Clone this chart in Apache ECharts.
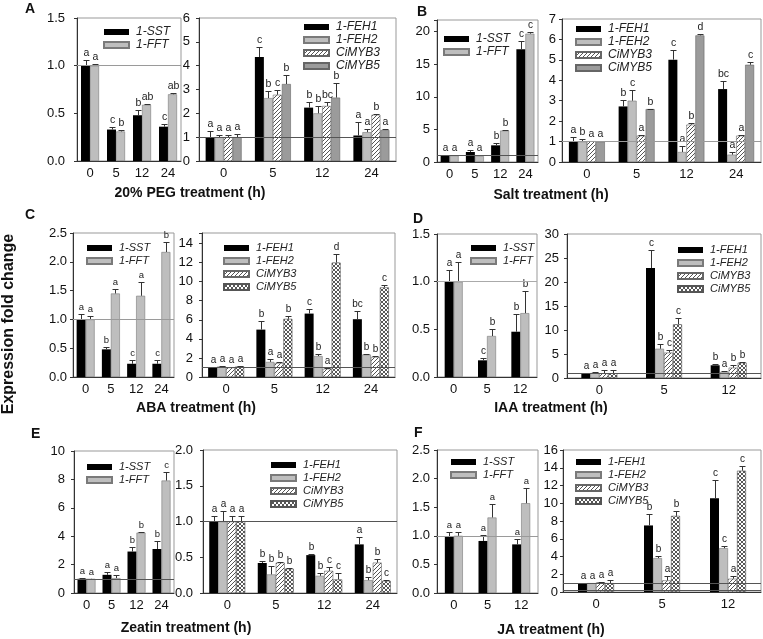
<!DOCTYPE html>
<html><head><meta charset="utf-8">
<script src="https://cdn.jsdelivr.net/npm/echarts@6/dist/echarts.min.js"></script>
<style>html,body{margin:0;padding:0;background:#fff}#c{width:763px;height:639px}</style>
</head><body><div id="c"></div><script>
// ---------- categories ----------
const H4 = ['0', '5', '12', '24'];
const H3 = ['0', '5', '12'];

// ---------- A: 20% PEG ----------
const A_SST = [1.0, 0.33, 0.48, 0.36], A_SST_err = [0.06, 0.03, 0.05, 0.025], A_SST_sig = ['a', 'c', 'b', 'c'];
const A_FFT = [1.0, 0.31, 0.59, 0.70], A_FFT_err = [0.02, 0.01, 0.01, 0.015], A_FFT_sig = ['a', 'b', 'ab', 'ab'];
const A_FEH1 = [1.0, 4.36, 2.24, 1.07], A_FEH1_err = [0.24, 0.42, 0.23, 0.58], A_FEH1_sig = ['a', 'c', 'b', 'a'];
const A_FEH2 = [1.0, 2.64, 2.0, 1.21], A_FEH2_err = [0.09, 0.28, 0.29, 0.12], A_FEH2_sig = ['a', 'b', 'b', 'a'];
const A_MYB3 = [1.0, 2.78, 2.31, 1.94], A_MYB3_err = [0.09, 0.21, 0.16, 0.02], A_MYB3_sig = ['a', 'c', 'bc', 'b'];
const A_MYB5 = [1.0, 3.23, 2.66, 1.30], A_MYB5_err = [0.14, 0.39, 0.61, 0.03], A_MYB5_sig = ['a', 'b', 'b', 'a'];

// ---------- B: Salt ----------
const B_SST = [1.0, 1.54, 2.56, 17.3], B_SST_err = [0.1, 0.36, 0.41, 1.2], B_SST_sig = ['a', 'a', 'b', 'c'];
const B_FFT = [1.0, 0.92, 4.82, 19.7], B_FFT_err = [0.08, 0.21, 0.15, 0.3], B_FFT_sig = ['a', 'a', 'b', 'c'];
const B_FEH1 = [1.0, 2.72, 5.01, 3.57], B_FEH1_err = [0.22, 0.33, 0.49, 0.41], B_FEH1_sig = ['a', 'b', 'c', 'bc'];
const B_FEH2 = [1.0, 3.0, 0.49, 0.36], B_FEH2_err = [0.14, 0.54, 0.28, 0.11], B_FEH2_sig = ['b', 'c', 'a', 'a'];
const B_MYB3 = [1.02, 1.29, 1.83, 1.29], B_MYB3_err = [0.03, 0.01, 0.07, 0.01], B_MYB3_sig = ['a', 'a', 'b', 'a'];
const B_MYB5 = [1.0, 2.59, 6.2, 4.76], B_MYB5_err = [0.02, 0.01, 0.08, 0.13], B_MYB5_sig = ['a', 'b', 'd', 'c'];

// ---------- C: ABA ----------
const C_SST = [1.0, 0.48, 0.23, 0.23], C_SST_err = [0.09, 0.04, 0.06, 0.06], C_SST_sig = ['a', 'b', 'c', 'c'];
const C_FFT = [1.0, 1.45, 1.41, 2.17], C_FFT_err = [0.06, 0.08, 0.24, 0.18], C_FFT_sig = ['a', 'a', 'a', 'b'];
const C_FEH1 = [1.0, 4.97, 6.65, 6.06], C_FEH1_err = [0.1, 0.88, 0.45, 0.84], C_FEH1_sig = ['a', 'b', 'c', 'bc'];
const C_FEH2 = [1.1, 1.58, 2.2, 2.35], C_FEH2_err = [0.1, 0.32, 0.18, 0.05], C_FEH2_sig = ['a', 'a', 'b', 'b'];
const C_MYB3 = [1.0, 1.47, 0.87, 2.1], C_MYB3_err = [0.05, 0.1, 0.08, 0.1], C_MYB3_sig = ['a', 'a', 'a', 'b'];
const C_MYB5 = [1.1, 6.1, 12.0, 9.4], C_MYB5_err = [0.05, 0.3, 0.85, 0.2], C_MYB5_sig = ['a', 'b', 'd', 'c'];

// ---------- D: IAA ----------
const D_SST = [1.0, 0.175, 0.475], D_SST_err = [0.12, 0.025, 0.185], D_SST_sig = ['a', 'c', 'b'];
const D_FFT = [1.0, 0.43, 0.67], D_FFT_err = [0.21, 0.07, 0.23], D_FFT_sig = ['a', 'b', 'b'];
const D_FEH1 = [1.0, 22.9, 2.65], D_FEH1_err = [0.1, 3.7, 0.35], D_FEH1_sig = ['a', 'c', 'b'];
const D_FEH2 = [1.05, 6.1, 1.26], D_FEH2_err = [0.1, 0.9, 0.14], D_FEH2_sig = ['a', 'b', 'a'];
const D_MYB3 = [1.0, 5.3, 2.16], D_MYB3_err = [0.6, 0.5, 0.49], D_MYB3_sig = ['a', 'c', 'b'];
const D_MYB5 = [1.0, 11.2, 3.2], D_MYB5_err = [0.6, 1.2, 0.15], D_MYB5_sig = ['a', 'c', 'b'];

// ---------- E: Zeatin ----------
const E_SST = [1.0, 1.28, 2.92, 3.1], E_SST_err = [0.05, 0.17, 0.35, 0.57], E_SST_sig = ['a', 'a', 'b', 'b'];
const E_FFT = [1.0, 1.05, 4.25, 7.92], E_FFT_err = [0.02, 0.19, 0.05, 0.58], E_FFT_sig = ['a', 'a', 'b', 'c'];
const E_FEH1 = [1.0, 0.42, 0.53, 0.68], E_FEH1_err = [0.08, 0.03, 0.02, 0.11], E_FEH1_sig = ['a', 'b', 'b', 'a'];
const E_FEH2 = [1.0, 0.26, 0.24, 0.18], E_FEH2_err = [0.14, 0.12, 0.045, 0.04], E_FEH2_sig = ['a', 'b', 'b', 'b'];
const E_MYB3 = [1.0, 0.425, 0.31, 0.425], E_MYB3_err = [0.08, 0.01, 0.05, 0.045], E_MYB3_sig = ['a', 'b', 'c', 'b'];
const E_MYB5 = [1.0, 0.34, 0.19, 0.17], E_MYB5_err = [0.08, 0.01, 0.095, 0.01], E_MYB5_sig = ['a', 'b', 'c', 'c'];

// ---------- F: JA ----------
const F_SST = [0.99, 0.91, 0.85], F_SST_err = [0.07, 0.11, 0.1], F_SST_sig = ['a', 'a', 'a'];
const F_FFT = [1.0, 1.32, 1.57], F_FFT_err = [0.06, 0.23, 0.26], F_FFT_sig = ['a', 'a', 'a'];
const F_FEH1 = [1.0, 7.5, 10.56], F_FEH1_err = [0.05, 1.26, 2.04], F_FEH1_sig = ['a', 'b', 'c'];
const F_FEH2 = [1.0, 3.82, 4.94], F_FEH2_err = [0.05, 0.26, 0.19], F_FEH2_sig = ['a', 'b', 'c'];
const F_MYB3 = [1.09, 1.31, 1.5], F_MYB3_err = [0.06, 0.45, 0.26], F_MYB3_sig = ['a', 'a', 'a'];
const F_MYB5 = [1.0, 8.58, 13.67], F_MYB5_err = [0.3, 0.6, 0.56], F_MYB5_sig = ['a', 'b', 'c'];

// ---------- text ----------
const xTitles = ['20% PEG treatment (h)', 'Salt treatment (h)', 'ABA treatment (h)', 'IAA treatment (h)', 'Zeatin treatment (h)', 'JA treatment (h)'];
const panelLetters = ['A', 'B', 'C', 'D', 'E', 'F'];
const yTitle = 'Expression fold change';

// ---------- styling ----------
const FONT = "'Liberation Sans', Arial, Helvetica, sans-serif";
function makeHatch() {
  const c = document.createElement('canvas'); c.width = 4; c.height = 4;
  const g = c.getContext('2d');
  g.fillStyle = '#fff'; g.fillRect(0, 0, 4, 4);
  g.strokeStyle = '#555'; g.lineWidth = 1;
  g.beginPath();
  g.moveTo(-1, 5); g.lineTo(5, -1);
  g.moveTo(-1, 1); g.lineTo(1, -1);
  g.moveTo(3, 5); g.lineTo(5, 3);
  g.stroke();
  return c;
}
function makeCross() {
  const c = document.createElement('canvas'); c.width = 4; c.height = 4;
  const g = c.getContext('2d');
  g.fillStyle = '#fff'; g.fillRect(0, 0, 4, 4);
  g.strokeStyle = '#444'; g.lineWidth = 0.9;
  g.beginPath();
  g.moveTo(0, 0); g.lineTo(4, 4);
  g.moveTo(0, 4); g.lineTo(4, 0);
  g.stroke();
  return c;
}
const hatchC = makeHatch(), crossC = makeCross();
const STY = {
  black: { color: '#000' },
  lgray: { color: '#bebebe', borderColor: '#7a7a7a', borderWidth: 0.6 },
  mgray: { color: '#9b9b9b', borderColor: '#666', borderWidth: 0.6 },
  hatch: { color: { image: hatchC, repeat: 'repeat' }, borderColor: '#666', borderWidth: 0.6 },
  cross: { color: { image: crossC, repeat: 'repeat' }, borderColor: '#555', borderWidth: 0.6 }
};

function S(name, v, e, sig, st) { return { name, v, e, sig, st }; }

const panels = [
  { id: 'A1', cats: H4, box: [77, 18, 181, 161], max: 1.5, step: 0.5, dec: 1, lm: 12, refs: [1], lc: '#9a9a9a', fs: 10.5, leg: [103, 25.5], lfs: 12,
    series: [S('1-SST', A_SST, A_SST_err, A_SST_sig, 'black'), S('1-FFT', A_FFT, A_FFT_err, A_FFT_sig, 'lgray')] },
  { id: 'A2', cats: H4, box: [199, 18, 396, 161], max: 6, step: 1, dec: 0, lm: 9, refs: [1], lc: '#555', fs: 10.5, leg: [303, 20.5], lfs: 12,
    series: [S('1-FEH1', A_FEH1, A_FEH1_err, A_FEH1_sig, 'black'), S('1-FEH2', A_FEH2, A_FEH2_err, A_FEH2_sig, 'lgray'),
             S('CiMYB3', A_MYB3, A_MYB3_err, A_MYB3_sig, 'hatch'), S('CiMYB5', A_MYB5, A_MYB5_err, A_MYB5_sig, 'mgray')] },
  { id: 'B1', cats: H4, box: [437, 20, 538, 162], max: 21.8, step: 5, dec: 0, lm: 7, refs: [1], lc: '#555', fs: 10, leg: [443, 32.5], lfs: 12,
    series: [S('1-SST', B_SST, B_SST_err, B_SST_sig, 'black'), S('1-FFT', B_FFT, B_FFT_err, B_FFT_sig, 'lgray')] },
  { id: 'B2', cats: H4, box: [562, 19, 761, 162], max: 7, step: 1, dec: 0, lm: 6, refs: [1], lc: '#9a9a9a', fs: 10.5, leg: [575, 22.5], lfs: 12,
    series: [S('1-FEH1', B_FEH1, B_FEH1_err, B_FEH1_sig, 'black'), S('1-FEH2', B_FEH2, B_FEH2_err, B_FEH2_sig, 'lgray'),
             S('CiMYB3', B_MYB3, B_MYB3_err, B_MYB3_sig, 'hatch'), S('CiMYB5', B_MYB5, B_MYB5_err, B_MYB5_sig, 'mgray')] },
  { id: 'C1', cats: H4, box: [73, 233, 174, 377], max: 2.5, step: 0.5, dec: 1, lm: 6, refs: [1], lc: '#9a9a9a', fs: 9.5, leg: [86, 241.5], lfs: 11,
    series: [S('1-SST', C_SST, C_SST_err, C_SST_sig, 'black'), S('1-FFT', C_FFT, C_FFT_err, C_FFT_sig, 'lgray')] },
  { id: 'C2', cats: H4, box: [202, 233, 395, 377], max: 15.1, step: 2, dec: 0, lm: 9, refs: [1], lc: '#555', fs: 10, leg: [223, 241.5], lfs: 11,
    series: [S('1-FEH1', C_FEH1, C_FEH1_err, C_FEH1_sig, 'black'), S('1-FEH2', C_FEH2, C_FEH2_err, C_FEH2_sig, 'lgray'),
             S('CiMYB3', C_MYB3, C_MYB3_err, C_MYB3_sig, 'hatch'), S('CiMYB5', C_MYB5, C_MYB5_err, C_MYB5_sig, 'cross')] },
  { id: 'D1', cats: H3, box: [437, 234, 537, 377], max: 1.5, step: 0.5, dec: 1, lm: 7, refs: [1], lc: '#aaa', fs: 10, leg: [470, 241.5], lfs: 11,
    series: [S('1-SST', D_SST, D_SST_err, D_SST_sig, 'black'), S('1-FFT', D_FFT, D_FFT_err, D_FFT_sig, 'lgray')] },
  { id: 'D2', cats: H3, box: [567, 234, 761, 378], max: 30, step: 5, dec: 0, lm: 8, refs: [1], lc: '#555', fs: 10, leg: [677, 243.5], lfs: 11,
    series: [S('1-FEH1', D_FEH1, D_FEH1_err, D_FEH1_sig, 'black'), S('1-FEH2', D_FEH2, D_FEH2_err, D_FEH2_sig, 'lgray'),
             S('CiMYB3', D_MYB3, D_MYB3_err, D_MYB3_sig, 'hatch'), S('CiMYB5', D_MYB5, D_MYB5_err, D_MYB5_sig, 'cross')] },
  { id: 'E1', cats: H4, box: [74, 451, 174, 593], max: 10, step: 2, dec: 0, lm: 9, refs: [1], lc: '#555', fs: 9.5, leg: [86, 460.5], lfs: 11,
    series: [S('1-SST', E_SST, E_SST_err, E_SST_sig, 'black'), S('1-FFT', E_FFT, E_FFT_err, E_FFT_sig, 'lgray')] },
  { id: 'E2', cats: H4, box: [203, 450, 397, 593], max: 2, step: 0.5, dec: 1, lm: 10, refs: [1], lc: '#555', fs: 10, leg: [270, 458.5], lfs: 11,
    series: [S('1-FEH1', E_FEH1, E_FEH1_err, E_FEH1_sig, 'black'), S('1-FEH2', E_FEH2, E_FEH2_err, E_FEH2_sig, 'lgray'),
             S('CiMYB3', E_MYB3, E_MYB3_err, E_MYB3_sig, 'hatch'), S('CiMYB5', E_MYB5, E_MYB5_err, E_MYB5_sig, 'cross')] },
  { id: 'F1', cats: H3, box: [437, 450, 538, 593], max: 2.5, step: 0.5, dec: 1, lm: 7, refs: [1], lc: '#9a9a9a', fs: 9.5, leg: [450, 455.5], lfs: 11,
    series: [S('1-SST', F_SST, F_SST_err, F_SST_sig, 'black'), S('1-FFT', F_FFT, F_FFT_err, F_FFT_sig, 'lgray')] },
  { id: 'F2', cats: H3, box: [563, 450, 761, 592], max: 16, step: 2, dec: 0, lm: 5, refs: [1, 0.25], lc: '#555', fs: 10, leg: [575, 455.5], lfs: 11,
    series: [S('1-FEH1', F_FEH1, F_FEH1_err, F_FEH1_sig, 'black'), S('1-FEH2', F_FEH2, F_FEH2_err, F_FEH2_sig, 'lgray'),
             S('CiMYB3', F_MYB3, F_MYB3_err, F_MYB3_sig, 'hatch'), S('CiMYB5', F_MYB5, F_MYB5_err, F_MYB5_sig, 'cross')] }
];

const BW = 9;
function errRender(off, sig, fs) {
  return function (params, api) {
    const c = api.value(0), v = api.value(1), e = api.value(2);
    const p0 = api.coord([c, v]), p1 = api.coord([c, v + e]);
    const x = Math.round(p0[0] + off) + 0.5;
    const yt = Math.round(p1[1]) + 0.5;
    return { type: 'group', children: [
      { type: 'line', shape: { x1: x, y1: p0[1], x2: x, y2: yt }, style: { stroke: '#333', lineWidth: 1 } },
      { type: 'line', shape: { x1: x - 3, y1: yt, x2: x + 3, y2: yt }, style: { stroke: '#333', lineWidth: 1 } },
      { type: 'text', x: x, y: yt - 2, style: { text: sig[params.dataIndex], textAlign: 'center', textVerticalAlign: 'bottom', fontSize: fs, fontFamily: FONT, fill: '#222' } }
    ] };
  };
}

const grid = [], xAxis = [], yAxis = [], series = [], legend = [];
panels.forEach((p, gi) => {
  const [x0, y0, x1, y1] = p.box;
  grid.push({ left: x0, top: y0, width: x1 - x0, height: y1 - y0, show: true, borderColor: '#999', borderWidth: 1, backgroundColor: 'transparent' });
  xAxis.push({ type: 'category', gridIndex: gi, data: p.cats, axisLine: { lineStyle: { color: '#333' } }, axisTick: { show: false },
    axisLabel: { fontSize: 13, color: '#111', margin: 6, fontFamily: FONT } });
  const step = p.step, dec = p.dec;
  yAxis.push({ type: 'value', gridIndex: gi, min: 0, max: p.max, interval: step,
    axisLine: { show: true, lineStyle: { color: '#333' } }, axisTick: { show: true, length: 3, lineStyle: { color: '#333' } },
    splitLine: { show: false },
    axisLabel: { fontSize: 13, color: '#111', margin: p.lm, fontFamily: FONT, showMaxLabel: true,
      formatter: v => (Math.abs(v / step - Math.round(v / step)) > 1e-6) ? '' : v.toFixed(dec) } });
  const n = p.series.length;
  const names = [];
  p.series.forEach((s, si) => {
    const nm = p.id + '|' + s.name;
    names.push(nm);
    series.push({ type: 'bar', name: nm, xAxisIndex: gi, yAxisIndex: gi, data: s.v, barWidth: BW, barGap: '0%',
      itemStyle: STY[s.st], z: 2, silent: true, animation: false });
    const off = (si - (n - 1) / 2) * BW;
    series.push({ type: 'custom', xAxisIndex: gi, yAxisIndex: gi, z: 3, silent: true, animation: false,
      data: s.v.map((v, i) => [i, v, s.e[i]]), encode: { x: 0, y: 1 }, renderItem: errRender(off, s.sig, p.fs) });
  });
  series.push({ type: 'line', xAxisIndex: gi, yAxisIndex: gi, data: [], z: 1, silent: true, animation: false,
    markLine: { silent: true, symbol: 'none', animation: false, label: { show: false },
      lineStyle: { color: p.lc, width: 1, type: 'solid' }, data: p.refs.map(r => ({ yAxis: r })) } });
  legend.push({ orient: 'vertical', left: p.leg[0], top: p.leg[1], padding: 0, itemGap: 0, itemWidth: 25, itemHeight: 6,
    icon: 'rect', data: names, selectedMode: false, formatter: nm => nm.split('|')[1],
    textStyle: { fontStyle: 'italic', fontSize: p.lfs, fontFamily: FONT, color: '#222', lineHeight: 13, padding: [0, 0, 0, 2] } });
});

const titlePos = [[190, 193], [551, 195], [196, 408], [551, 408], [186, 628], [551, 630]];
const letterPos = [[25, 2], [417, 5], [25, 208], [413, 212], [31, 427], [414, 426]];
const graphic = [];
xTitles.forEach((t, i) => graphic.push({ type: 'text', x: titlePos[i][0], y: titlePos[i][1],
  style: { text: t, textAlign: 'center', textVerticalAlign: 'middle', font: 'bold 14px ' + FONT, fill: '#111' } }));
panelLetters.forEach((t, i) => graphic.push({ type: 'text', x: letterPos[i][0], y: letterPos[i][1],
  style: { text: t, textAlign: 'left', textVerticalAlign: 'top', font: 'bold 14px ' + FONT, fill: '#111' } }));
graphic.push({ type: 'text', x: 9, y: 324, rotation: Math.PI / 2,
  style: { text: yTitle, textAlign: 'center', textVerticalAlign: 'middle', font: 'bold 16px ' + FONT, fill: '#111' } });

const chart = echarts.init(document.getElementById('c'), null, { renderer: 'canvas' });
chart.setOption({ animation: false, backgroundColor: '#fff', grid, xAxis, yAxis, series, legend, graphic });
</script></body></html>
